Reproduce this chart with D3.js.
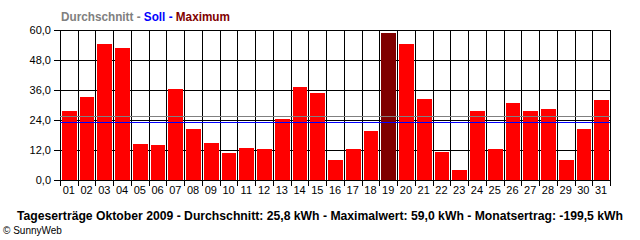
<!DOCTYPE html>
<html>
<head>
<meta charset="utf-8">
<script src="https://cdn.jsdelivr.net/npm/d3@7"></script>
<style>
body{margin:0;background:#fff}
text{font-family:"Liberation Sans",Arial,sans-serif}
</style>
</head>
<body>
<div id="chart"></div>
<script>
// daily yields October 2009 (kWh)
const days = d3.range(1, 32).map(d => (d < 10 ? "0" : "") + d)
const values = [27.6, 33.2, 54.4, 52.8, 14.4, 14.0, 36.4, 20.4, 14.8, 10.8, 12.8, 12.4, 24.4, 37.2, 34.8, 8.0,
                12.4, 19.6, 59.0, 54.4, 32.4, 11.2, 4.0, 27.6, 12.4, 30.8, 27.6, 28.4, 8.0, 20.4, 32.0]
const yTicks = [0, 12, 24, 36, 48, 60]
const average = 25.8
const target = 23.2
const maxValue = 59.0

var width = 640, height = 240
var plotLeft = 60, plotRight = 610, plotTop = 30, plotBottom = 180

var svg = d3.select("#chart").append("svg")
    .attr("width", width)
    .attr("height", height)

var xScale = d3.scaleBand()
    .domain(days)
    .range([plotLeft, plotRight])

var yScale = d3.scaleLinear()
    .domain([0, 60])
    .range([plotBottom, plotTop])

// grid
svg.append("g").selectAll("line")
    .data(yTicks)
  .enter().append("line")
    .attr("x1", plotLeft - 6).attr("x2", plotRight + 1)
    .attr("y1", d => Math.round(yScale(d)) + 0.5)
    .attr("y2", d => Math.round(yScale(d)) + 0.5)
    .attr("stroke", "#000")

var bounds = days.map(d => xScale(d)).concat([plotRight])
svg.append("g").selectAll("line")
    .data(bounds)
  .enter().append("line")
    .attr("x1", d => Math.round(d) + 0.5).attr("x2", d => Math.round(d) + 0.5)
    .attr("y1", plotTop).attr("y2", plotBottom + 6)
    .attr("stroke", "#000")

// bars
svg.append("g").selectAll("rect")
    .data(values)
  .enter().append("rect")
    .attr("x", (d, i) => Math.round(xScale(days[i])) + 2)
    .attr("width", (d, i) => Math.round(xScale(days[i]) + xScale.bandwidth()) - Math.round(xScale(days[i])) - 3)
    .attr("y", d => Math.round(yScale(d)))
    .attr("height", d => plotBottom - Math.round(yScale(d)))
    .attr("fill", d => d == maxValue ? "#800000" : "#ff0000")

// average and target lines
svg.append("line")
    .attr("x1", plotLeft).attr("x2", plotRight)
    .attr("y1", Math.round(yScale(average)) + 0.5).attr("y2", Math.round(yScale(average)) + 0.5)
    .attr("stroke", "#808080").attr("stroke-width", 1)
svg.append("line")
    .attr("x1", plotLeft).attr("x2", plotRight)
    .attr("y1", Math.round(yScale(target)) + 0.5).attr("y2", Math.round(yScale(target)) + 0.5)
    .attr("stroke", "#0000ff").attr("stroke-width", 1)

// y labels
svg.append("g").selectAll("text")
    .data(yTicks)
  .enter().append("text")
    .attr("x", 51)
    .attr("y", d => yScale(d) + 4)
    .attr("text-anchor", "end")
    .attr("font-size", 11)
    .text(d => d.toFixed(1).replace(".", ","))

// x labels
svg.append("g").selectAll("text")
    .data(days)
  .enter().append("text")
    .attr("x", d => xScale(d) + xScale.bandwidth() / 2)
    .attr("y", 194)
    .attr("text-anchor", "middle")
    .attr("font-size", 11)
    .text(d => d)

// legend
var legend = svg.append("text")
    .attr("x", 61)
    .attr("y", 21)
    .attr("font-size", 12)
    .attr("font-weight", "bold")
    .attr("textLength", 169)
    .attr("lengthAdjust", "spacingAndGlyphs")
legend.append("tspan").attr("fill", "#808080").text("Durchschnitt - ")
legend.append("tspan").attr("fill", "#0000ff").text("Soll - ")
legend.append("tspan").attr("fill", "#800000").text("Maximum")

// caption
svg.append("text")
    .attr("x", 17)
    .attr("y", 220)
    .attr("font-size", 12)
    .attr("font-weight", "bold")
    .attr("textLength", 606)
    .attr("lengthAdjust", "spacingAndGlyphs")
    .text("Tageserträge Oktober 2009 - Durchschnitt: 25,8 kWh - Maximalwert: 59,0 kWh - Monatsertrag: -199,5 kWh")

svg.append("text")
    .attr("x", 3)
    .attr("y", 234)
    .attr("font-size", 10)
    .text("© SunnyWeb")
</script>
</body>
</html>
